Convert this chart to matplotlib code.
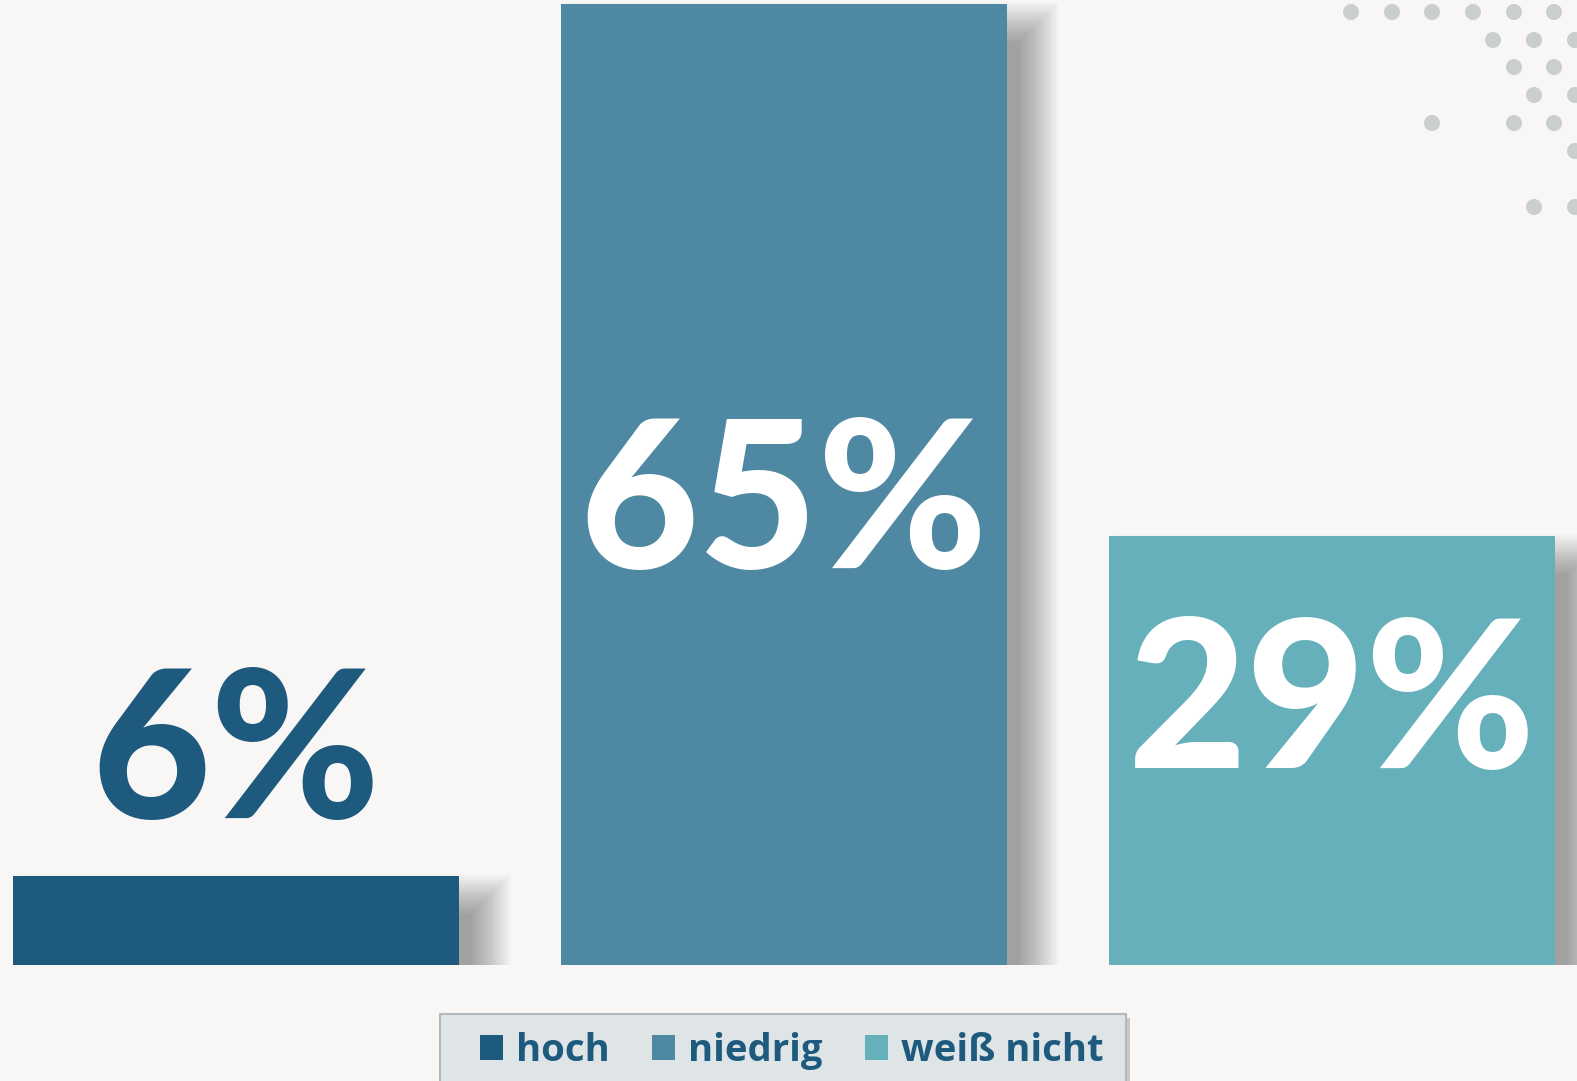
import matplotlib.pyplot as plt
from matplotlib.patches import Rectangle, Ellipse

categories = ['hoch', 'niedrig', 'weiß nicht']
values = [6, 65, 29]
labels = ['6%', '65%', '29%']
colors = ['#1d5a7e', '#4f88a3', '#66b0bb']
label_colors = ['#1d5a7e', 'white', 'white']

# decorative dots, top right (pixel coords from top-left)
dot_x = [1351, 1392, 1432, 1473, 1514, 1554,
         1493, 1534, 1575,
         1514, 1554,
         1534, 1575,
         1432, 1514, 1554,
         1575,
         1534, 1575]
dot_y = [12, 12, 12, 12, 12, 12,
         40, 40, 40,
         67, 67,
         95, 95,
         123, 123, 123,
         151,
         207, 207]

W, H = 1577, 1081
bg = '#f8f7f5'
base_px = 965          # bottom of bars, pixels from top
step_px = 548          # distance between bar centres
c0_px = 236            # centre of first bar
ytop = 65 * base_px / 961

fig = plt.figure(figsize=(W / 100, H / 100), dpi=100, facecolor=bg)
ax = fig.add_axes([0, (H - base_px) / H, 1, base_px / H])
ax.set_facecolor(bg)
ax.set_xlim(-c0_px / step_px, (W - c0_px) / step_px)
ax.set_ylim(0, ytop)
ax.axis('off')

px_x = 1 / step_px
px_y = ytop / base_px

x = list(range(len(values)))
width = 446 / step_px

# soft blurred shadow on the right of each bar
n = 24
for i, v in enumerate(values):
    left = x[i] - width / 2 + 25 * px_x
    right = x[i] + width / 2 + 32 * px_x
    top = v - 18 * px_y
    for k in range(n):
        e = -20 + 40 * k / (n - 1)
        ax.add_patch(Rectangle((left - e * px_x, 0), right - left + 2 * e * px_x,
                               top + e * px_y, facecolor='black', alpha=0.42 / n,
                               lw=0, zorder=1))

bars = ax.bar(x, values, width=width, color=colors, zorder=3)

label_y = [(base_px - 818) * px_y, (base_px - 568) * px_y, (base_px - 768) * px_y]
for i, t in enumerate(labels):
    ax.text(x[i], label_y[i], t, ha='center', va='baseline', fontsize=148,
            fontfamily='Lato', fontweight='black', color=label_colors[i], zorder=5)

# dots
for px, py in zip(dot_x, dot_y):
    fig.add_artist(Ellipse((px / W, 1 - py / H), 16 / W, 16 / H, transform=fig.transFigure,
                           facecolor='#cbcfcc', edgecolor='none'))

# legend box with shadow
fig.add_artist(Rectangle((444 / W, -10 / H), 686 / W, (H - 1018 + 10) / H,
                         transform=fig.transFigure, facecolor='#a9a9a9', edgecolor='none',
                         alpha=0.6))
fig.add_artist(Rectangle((440 / W, -10 / H), 686 / W, (H - 1014 + 10) / H,
                         transform=fig.transFigure, facecolor='#dfe4e7', edgecolor='#b4b8ba',
                         lw=1.5))

leg = fig.legend(handles=list(bars), labels=categories, loc='center',
                 bbox_to_anchor=(792 / W, 1 - 1051 / H), ncol=3, frameon=False,
                 prop={'family': 'Open Sans', 'weight': 'bold', 'size': 27.5},
                 handlelength=0.6, handleheight=0.6, handletextpad=0.35,
                 columnspacing=1.1, borderpad=0, borderaxespad=0)
for t in leg.get_texts():
    t.set_color('#1d5a7e')

fig.savefig('out.png', dpi=100, facecolor=bg)
